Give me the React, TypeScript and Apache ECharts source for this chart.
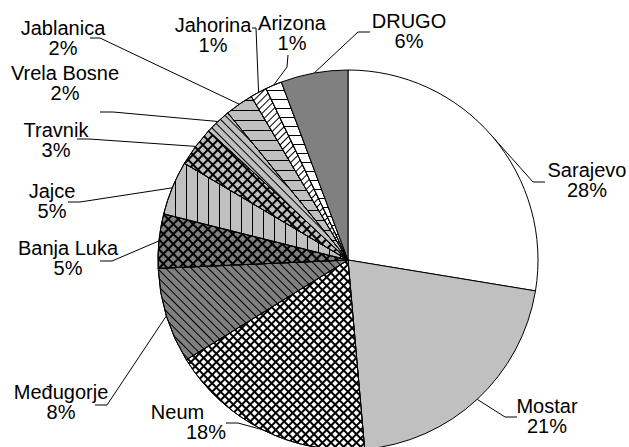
import React, { useEffect, useRef } from 'react';
import * as echarts from 'echarts';

const CATEGORIES = ['Sarajevo', 'Mostar', 'Neum', 'Međugorje', 'Banja Luka', 'Jajce', 'Travnik', 'Vrela Bosne', 'Jablanica', 'Jahorina', 'Arizona', 'DRUGO'];
const VALUES = [27.6, 21.0, 17.6, 8.1, 4.6, 4.6, 3.4, 2.2, 2.4, 1.4, 1.4, 5.7];

const WHITE = '#ffffff';
const LIGHT = '#c0c0c0';
const DARK = '#808080';
const INK = '#000000';
const FONT = '"Liberation Sans", Arial, sans-serif';

// diagonal cross-hatch: a grid of ink lines, rotated 45°
const hatch = (cell: number, line: number) => ({
  symbol: 'rect', symbolSize: 1,
  dashArrayX: [[1, 0], [line, cell]],
  dashArrayY: [line, 0, cell, 0],
  rotation: Math.PI / 4, color: INK,
});
const stripes = (gap: number, rot: number) => ({
  symbol: 'rect', symbolSize: 1,
  dashArrayX: [1, 0], dashArrayY: [1, gap],
  rotation: rot, color: INK,
});

const SLICE_STYLES: any[] = [
  { color: WHITE },
  { color: LIGHT },
  { color: WHITE, decal: hatch(3.8, 1.5) },
  { color: DARK, decal: stripes(4.2, Math.PI / 4) },
  { color: DARK, decal: hatch(4.6, 1.5) },
  { color: LIGHT, decal: stripes(9.5, Math.PI / 2) },
  { color: LIGHT, decal: hatch(4.6, 1.5) },
  { color: LIGHT, decal: stripes(5, Math.PI / 4) },
  { color: LIGHT, decal: stripes(8.5, 0) },
  { color: WHITE, decal: stripes(4, -Math.PI / 4) },
  { color: WHITE, decal: stripes(7.5, 0) },
  { color: DARK },
];

// label block centres and leader-line elbow/end points (layout only)
const LABEL_LAYOUT: any[] = [
  { x: 587, y: 180, elbow: [533, 182], end: [545, 182] },
  { x: 547, y: 416, elbow: [505, 417], end: [517, 417] },
  { x: 177.5, y: 421.5, elbow: [238, 423], end: [226, 423], shift: 57 },
  { x: 61, y: 402, elbow: [107, 405], end: [95, 405] },
  { x: 68, y: 258, elbow: [112, 261], end: [100, 261] },
  { x: 52, y: 200.5, elbow: [80, 202], end: [68, 202] },
  { x: 56, y: 139.5, elbow: [89, 139], end: [77, 139] },
  { x: 65, y: 83, elbow: [113, 112], end: [100, 112] },
  { x: 63, y: 38, elbow: [100, 38], end: [90, 38] },
  { x: 213, y: 35, elbow: [256, 28], end: [252, 28] },
  { x: 292, y: 33, elbow: [287, 67], end: [288, 55] },
  { x: 409, y: 30.5, elbow: [358, 32], end: [370, 32] },
];

export default function App() {
  const ref = useRef<HTMLDivElement>(null);
  useEffect(() => {
    document.body.style.margin = '0';
    const chart = echarts.init(ref.current!, null, { renderer: 'svg' });
    const tokenStyle = { fontSize: 20, lineHeight: 20, fontFamily: FONT, color: INK };
    chart.setOption({
      animation: false,
      backgroundColor: '#ffffff',
      series: [{
        type: 'pie',
        center: [348, 260],
        radius: 190,
        startAngle: 90,
        clockwise: true,
        avoidLabelOverlap: false,
        minShowLabelAngle: 0,
        emphasis: { disabled: true },
        itemStyle: { borderColor: INK, borderWidth: 1 },
        data: CATEGORIES.map((name, i) => ({
          name,
          value: VALUES[i],
          itemStyle: SLICE_STYLES[i].decal
            ? { color: SLICE_STYLES[i].color, decal: SLICE_STYLES[i].decal }
            : { color: SLICE_STYLES[i].color },
        })),
        label: {
          show: true,
          position: 'outside',
          color: INK,
          fontFamily: FONT,
          fontSize: 20,
          lineHeight: 20,
          formatter: (p: any) => {
            const pct = Math.round(p.percent) + '%';
            if (LABEL_LAYOUT[p.dataIndex].shift) return `{n|${p.name}}\n{s|${pct}}`;
            return `${p.name}\n${pct}`;
          },
          rich: {
            n: { ...tokenStyle },
            s: { ...tokenStyle, padding: [0, 0, 0, 57] },
          },
        },
        labelLine: { show: true, length: 10, length2: 10, lineStyle: { color: INK, width: 1 } },
        labelLayout: (p: any) => {
          const lay = LABEL_LAYOUT[p.dataIndex];
          const a = p.labelLinePoints ? [p.labelLinePoints[0][0], p.labelLinePoints[0][1]] : lay.elbow;
          return {
            x: lay.x, y: lay.y, align: 'center', verticalAlign: 'middle',
            labelLinePoints: [a, lay.elbow, lay.end],
          };
        },
      }],
    });
    return () => chart.dispose();
  }, []);
  return <div ref={ref} style={{ width: 629, height: 447 }} />;
}
